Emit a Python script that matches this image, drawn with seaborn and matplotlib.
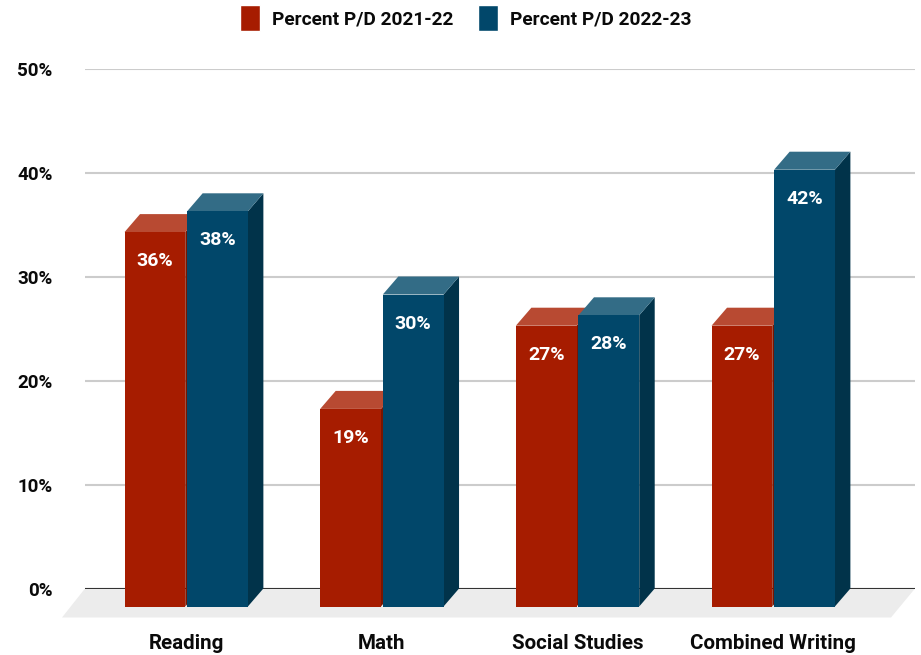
import pandas as pd
import matplotlib
matplotlib.use("Agg")
import matplotlib.pyplot as plt
from matplotlib.patches import Polygon
import seaborn as sns

# values
subjects = ["Reading", "Math", "Social Studies", "Combined Writing"]
pct_2021 = [36, 19, 27, 27]
pct_2022 = [38, 30, 28, 42]
series_names = ["Percent P/D 2021-22", "Percent P/D 2022-23"]
y_ticks = [0, 10, 20, 30, 40, 50]

front_colors = ["#a61c00", "#01476a"]
top_colors = ["#b84a32", "#336c86"]
side_colors = ["#7a1500", "#01334a"]

df = pd.DataFrame({
    "subject": subjects * 2,
    "pct": pct_2021 + pct_2022,
    "series": [series_names[0]] * 4 + [series_names[1]] * 4,
})

sns.set_theme(style="white")
plt.rcParams["font.family"] = ["Roboto", "DejaVu Sans"]
text_color = "#0a0a0a"

W, H = 921, 655
fig = plt.figure(figsize=(W / 100, H / 100), dpi=100)
# axes box in pixels: x 85-915, y 68.5 (50%) - 588.5 (0%)
ax = fig.add_axes([85 / W, (H - 588.5) / H, 830 / W, 520 / H])

sns.barplot(data=df, x="subject", y="pct", hue="series", order=subjects,
            hue_order=series_names, palette=front_colors, width=0.64, gap=0.03,
            saturation=1, errorbar=None, ax=ax)

group_px = 195.67
ax.set_xlim((85 - 186.2) / group_px, (915 - 186.2) / group_px)
ax.set_ylim(0, 50)

# fake 3d depth: fronts sit lower-left of the axis plane
px_x = 1 / group_px
px_y = 1 / 10.4
dx = 15.5 * px_x
dy = 18 * px_y

for i, bars in enumerate(ax.containers):
    for j, bar in enumerate(bars):
        x0, x1 = bar.get_x(), bar.get_x() + bar.get_width()
        v = bar.get_height()
        bar.set_y(-dy)
        bar.set_clip_on(False)
        bar.set_linewidth(0)
        z = 1 + i * 0.3
        bar.set_zorder(z + 0.2)
        side = Polygon([(x1, -dy), (x1 + dx, 0), (x1 + dx, v), (x1, v - dy)],
                       closed=True, fc=side_colors[i], lw=0, clip_on=False, zorder=z)
        top = Polygon([(x0, v - dy), (x1, v - dy), (x1 + dx, v), (x0 + dx, v)],
                      closed=True, fc=top_colors[i], lw=0, clip_on=False, zorder=z + 0.1)
        ax.add_patch(side)
        ax.add_patch(top)
    ax.bar_label(bars, labels=[f"{b.get_height():.0f}%" for b in bars], padding=-27.5,
                 color="white", fontsize=14, fontweight="bold", zorder=5)

# floor
floor = Polygon([(ax.get_xlim()[0], 0), (ax.get_xlim()[1], 0),
                 (ax.get_xlim()[1] - 24 * px_x, -29 * px_y), (ax.get_xlim()[0] - 23 * px_x, -29 * px_y)],
                closed=True, fc="#ececec", lw=0, clip_on=False, zorder=0.7)
ax.add_patch(floor)
ax.axhline(0, color="#333333", lw=1.5, zorder=0.8)

ax.set_yticks(y_ticks)
ax.set_yticklabels([f"{t}%" for t in y_ticks])
ax.yaxis.grid(True, color="#cccccc", lw=1.5)
ax.xaxis.grid(False)
ax.set_axisbelow(True)
ax.tick_params(axis="y", length=0, pad=23.5, labelsize=13.5, labelcolor=text_color)
ax.tick_params(axis="x", length=0, pad=33, labelsize=14.8, labelcolor=text_color)
for lab in ax.get_xticklabels() + ax.get_yticklabels():
    lab.set_fontweight("bold")
ax.set_xlabel("")
ax.set_ylabel("")
sns.despine(ax=ax, left=True, bottom=True)

handles, labels = ax.get_legend_handles_labels()
ax.get_legend().remove()
fig.legend(handles, labels, loc="center", bbox_to_anchor=(465.5 / W, 1 - 18 / H), ncol=2,
           frameon=False, handlelength=1.05, handleheight=1.67, handletextpad=0.62,
           columnspacing=1.29, prop={"size": 13.8, "weight": "bold"}, labelcolor=text_color)

fig.savefig("out.png", dpi=100)
